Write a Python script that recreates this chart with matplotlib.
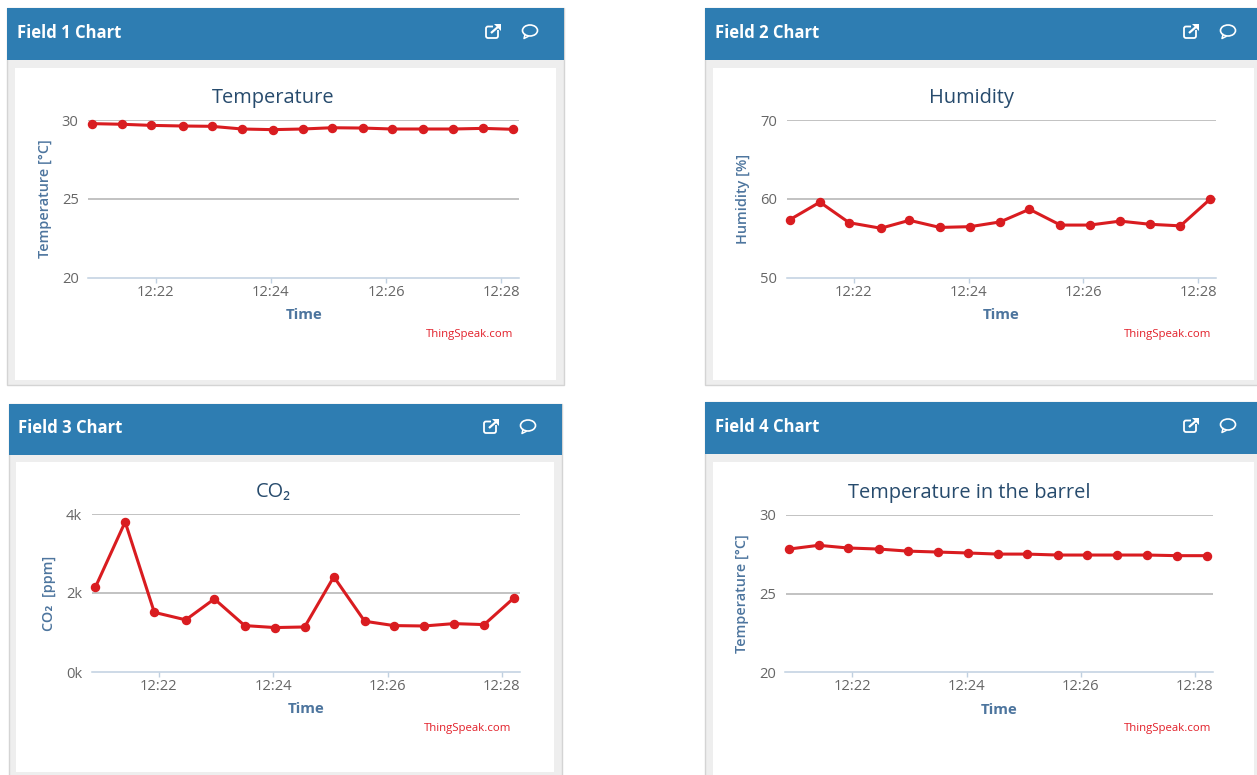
import matplotlib
matplotlib.use('Agg')
import matplotlib.pyplot as plt
from matplotlib.patches import Rectangle, FancyBboxPatch, Polygon, Ellipse

W, H = 1257, 775

# minutes past 12:00
minutes = [20.89, 21.41, 21.92, 22.47, 22.97, 23.50, 24.03, 24.55,
           25.06, 25.60, 26.11, 26.64, 27.16, 27.69, 28.21]
tick_minutes = [22, 24, 26, 28]
tick_labels = ['12:22', '12:24', '12:26', '12:28']

temperature = [29.77, 29.73, 29.66, 29.62, 29.60, 29.43, 29.39, 29.43,
               29.51, 29.49, 29.43, 29.43, 29.43, 29.47, 29.41]
humidity = [57.4, 59.6, 57.0, 56.3, 57.3, 56.4, 56.5, 57.1,
            58.7, 56.7, 56.7, 57.2, 56.8, 56.6, 60.0]
co2 = [2150, 3800, 1510, 1320, 1850, 1175, 1125, 1140,
       2410, 1285, 1175, 1165, 1225, 1200, 1875]
barrel = [27.83, 28.07, 27.90, 27.83, 27.70, 27.64, 27.58, 27.51,
          27.51, 27.45, 27.45, 27.45, 27.45, 27.41, 27.41]

BLUE = '#2e7db2'
RED = '#d91c20'

plt.rcParams['font.family'] = ['Open Sans', 'DejaVu Sans']

fig = plt.figure(figsize=(W / 100, H / 100), dpi=100, facecolor='white')

# page furniture is drawn in pixel coordinates
page = fig.add_axes([0, 0, 1, 1])
page.set_xlim(0, W)
page.set_ylim(H, 0)
page.axis('off')


def draw_icons(x1, x2, y):
    # external link icon
    page.add_patch(FancyBboxPatch((x1 - 7, y - 4.5), 12, 11.5, boxstyle='round,pad=0,rounding_size=2',
                                  fill=False, ec='white', lw=1.3))
    page.add_patch(Rectangle((x1 + 0, y - 7.5), 8, 6, fc=BLUE, ec='none'))
    page.plot([x1 - 2, x1 + 6], [y + 2, y - 5], color='white', lw=1.6, solid_capstyle='butt')
    page.add_patch(Polygon([[x1 + 1, y - 7.5], [x1 + 8, y - 7.5], [x1 + 8, y - 0.5]], fc='white', ec='none'))
    # comment bubble
    page.add_patch(Ellipse((x2, y - 0.5), 15, 11, fill=False, ec='white', lw=1.2))
    page.plot([x2 - 5, x2 - 6, x2 - 2], [y + 3.5, y + 7.5, y + 5.5], color='white', lw=1.1)


def draw_panel(outer, header_bottom, white, name, name_x, icon_x, icon_y):
    x0, y0, x1, y1 = outer
    page.add_patch(Rectangle((x0, y0), x1 - x0, y1 - y0, fc='#eeeeee', ec='#d4d4d4', lw=1))
    page.add_patch(Rectangle((x0, y0), x1 - x0, header_bottom - y0, fc=BLUE, ec='none'))
    wx0, wy0, wx1, wy1 = white
    page.add_patch(Rectangle((wx0, wy0), wx1 - wx0, wy1 - wy0, fc='white', ec='none'))
    page.text(name_x, (y0 + header_bottom) / 2 - 1.5, name, color='white', fontsize=12,
              fontweight='bold', va='center', ha='left')
    draw_icons(icon_x[0], icon_x[1], icon_y)


def draw_chart(box, values, ylim, yticks, ylabels, title, title_pos, ylabel, ylabel_x, credit_pos):
    left, top, right, bottom = box
    ax = fig.add_axes([left / W, 1 - bottom / H, (right - left) / W, (bottom - top) / H])
    ax.patch.set_alpha(0)
    ax.plot(minutes, values, color=RED, lw=2.2, marker='o', ms=5.8, clip_on=False, zorder=3)
    ax.set_xlim(20.83, 28.31)
    ax.set_ylim(*ylim)
    ax.set_xticks(tick_minutes)
    ax.set_xticklabels(tick_labels, fontsize=10.6, color='#666666')
    ax.set_yticks(yticks)
    ax.set_yticklabels(ylabels, fontsize=10.6, color='#666666')
    ax.tick_params(axis='x', length=3.8, width=1, color='#c0d0e0', pad=1.2)
    ax.tick_params(axis='y', length=0, pad=7)
    for side in ['top', 'right', 'left']:
        ax.spines[side].set_visible(False)
    ax.spines['bottom'].set_color('#c0d0e0')
    ax.spines['bottom'].set_linewidth(1.1)
    for tick in yticks[1:]:
        ax.axhline(tick, color='#b8b8b8', lw=1.2, zorder=1)
    w, h = right - left, bottom - top
    ax.set_title(title, fontsize=14.4, color='#274b6d', va='center', pad=0,
                 x=(title_pos[0] - left) / w, y=(bottom - title_pos[1] - 2) / h)
    ax.set_xlabel('Time', fontsize=10.8, color='#4d759e', fontweight='bold')
    ax.xaxis.set_label_coords(0.5, (bottom - (top + 195)) / h, transform=ax.transAxes)
    ax.xaxis.label.set_va('center')
    ax.set_ylabel(ylabel, fontsize=10.4, color='#4d759e', fontweight='semibold')
    ax.yaxis.set_label_coords((ylabel_x - left) / w, 0.5)
    ax.yaxis.label.set_va('center')
    page.text(credit_pos[0], credit_pos[1] + 1, 'ThingSpeak.com', color='#e2202a', fontsize=8.2,
              ha='right', va='center')


draw_panel((6.5, 8, 564, 385), 60, (15, 68, 556, 380), 'Field 1 Chart', 17, (493, 530), 31)
draw_panel((704.5, 8, 1258, 385), 60, (713, 68, 1254, 380), 'Field 2 Chart', 715, (1191, 1228), 31)
draw_panel((8.5, 404, 562, 776), 455, (16, 462, 554, 772), 'Field 3 Chart', 18, (491, 528), 426)
draw_panel((704.5, 402, 1258, 776), 454, (713, 462, 1254, 776), 'Field 4 Chart', 715, (1191, 1228), 425)

draw_chart((88.4, 120, 519, 278), temperature, (20, 30), [20, 25, 30], ['20', '25', '30'],
           'Temperature', (273.5, 96), 'Temperature [°C]', 45, (513.5, 334))
draw_chart((786.6, 120, 1216, 278), humidity, (50, 70), [50, 60, 70], ['50', '60', '70'],
           'Humidity', (971.7, 96), 'Humidity [%]', 743, (1211.5, 334))
draw_chart((92, 514, 519.6, 672), co2, (0, 4000), [0, 2000, 4000], ['0k', '2k', '4k'],
           'CO₂', (273.5, 490), 'CO₂  [ppm]', 49, (511.6, 727))
draw_chart((785.5, 515, 1212.6, 672), barrel, (20, 30), [20, 25, 30], ['20', '25', '30'],
           'Temperature in the barrel', (969, 491), 'Temperature [°C]', 742, (1211.5, 728))

fig.savefig('out.png', dpi=100)
